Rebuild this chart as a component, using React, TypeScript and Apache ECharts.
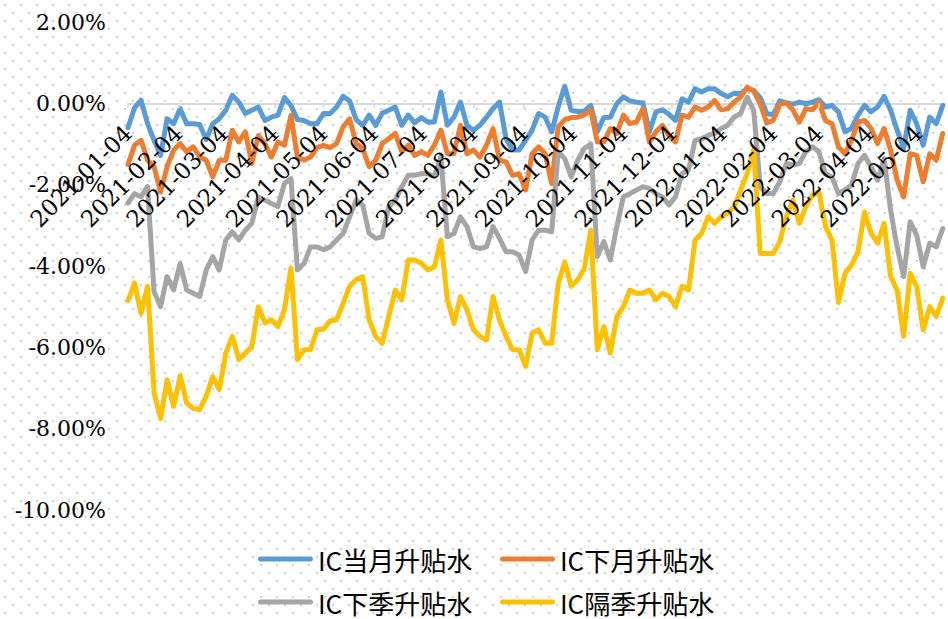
import React, { useEffect, useRef } from "react";
import * as echarts from "echarts";

// Sample dates (every 4 calendar days)
const DATES = [
  "2021-01-04","2021-01-08","2021-01-12","2021-01-16","2021-01-20","2021-01-24","2021-01-28",
  "2021-02-01","2021-02-05","2021-02-09","2021-02-13","2021-02-17","2021-02-21","2021-02-25",
  "2021-03-01","2021-03-05","2021-03-09","2021-03-13","2021-03-17","2021-03-21","2021-03-25","2021-03-29",
  "2021-04-02","2021-04-06","2021-04-10","2021-04-14","2021-04-18","2021-04-22","2021-04-26","2021-04-30",
  "2021-05-04","2021-05-08","2021-05-12","2021-05-16","2021-05-20","2021-05-24","2021-05-28",
  "2021-06-01","2021-06-05","2021-06-09","2021-06-13","2021-06-17","2021-06-21","2021-06-25","2021-06-29",
  "2021-07-03","2021-07-07","2021-07-11","2021-07-15","2021-07-19","2021-07-23","2021-07-27","2021-07-31",
  "2021-08-04","2021-08-08","2021-08-12","2021-08-16","2021-08-20","2021-08-24","2021-08-28",
  "2021-09-01","2021-09-05","2021-09-09","2021-09-13","2021-09-17","2021-09-21","2021-09-25","2021-09-29",
  "2021-10-03","2021-10-07","2021-10-11","2021-10-15","2021-10-19","2021-10-23","2021-10-27","2021-10-31",
  "2021-11-04","2021-11-08","2021-11-12","2021-11-16","2021-11-20","2021-11-24","2021-11-28",
  "2021-12-02","2021-12-06","2021-12-10","2021-12-14","2021-12-18","2021-12-22","2021-12-26","2021-12-30",
  "2022-01-03","2022-01-07","2022-01-11","2022-01-15","2022-01-19","2022-01-23","2022-01-27","2022-01-31",
  "2022-02-04","2022-02-08","2022-02-12","2022-02-16","2022-02-20","2022-02-24","2022-02-28",
  "2022-03-04","2022-03-08","2022-03-12","2022-03-16","2022-03-20","2022-03-24","2022-03-28",
  "2022-04-01","2022-04-05","2022-04-09","2022-04-13","2022-04-17","2022-04-21","2022-04-25","2022-04-29",
  "2022-05-03","2022-05-07","2022-05-11","2022-05-15","2022-05-19"
];

// IC当月升贴水 (%)
const IC_CURRENT = [
  -0.60,-0.11,0.08,-0.50,-0.91,-1.28,-0.38,-0.50,-0.13,-0.50,
  -0.50,-0.52,-0.89,-0.50,-0.38,-0.17,0.20,0.03,-0.25,-0.17,
  -0.09,-0.42,-0.34,-0.29,0.14,-0.05,-0.40,-0.42,-0.50,-0.50,
  -0.25,-0.25,-0.09,0.17,0.06,-0.40,-0.54,-0.29,-0.54,-0.24,
  -0.17,-0.09,-0.54,-0.29,-0.48,-0.35,-0.46,-0.46,0.28,-0.54,
  -0.34,0.03,-0.54,-0.66,-0.54,-0.34,-0.13,0.03,-0.87,-1.15,
  -1.15,-0.91,-0.66,-0.25,-0.34,-0.70,-0.09,0.42,-0.17,-0.20,
  -0.19,-0.05,-0.70,-0.35,-0.34,-0.01,0.16,0.06,0.03,0.01,
  -0.70,-0.21,-0.16,-0.27,-0.42,0.11,0.03,0.36,0.28,0.36,
  0.36,0.24,0.16,0.25,0.24,0.36,0.32,0.14,-0.25,-0.28,
  0.06,0.01,-0.02,0.03,-0.01,0.03,0.09,-0.09,-0.05,-0.21,
  -0.70,-0.62,-0.29,-0.05,-0.21,-0.09,0.17,-0.17,-0.66,-1.11,
  -0.17,-0.50,-1.03,-0.34,-0.50,-0.05
];

// IC下月升贴水 (%)
const IC_NEXT_MONTH = [
  -1.50,-1.03,-0.91,-1.40,-1.56,-2.18,-1.56,-1.15,-0.99,-1.19,
  -1.07,-1.32,-1.40,-1.81,-1.40,-1.40,-0.66,-0.95,-0.70,-1.48,
  -0.79,-0.99,-1.32,-0.95,-1.03,-0.30,-1.32,-1.40,-1.32,-1.09,
  -1.03,-1.09,-0.99,-0.58,-0.38,-0.99,-1.11,-1.56,-1.40,-0.99,
  -0.87,-0.74,-1.19,-1.03,-1.28,-1.19,-1.28,-1.03,-0.66,-1.24,
  -1.24,-0.54,-1.24,-1.15,-1.32,-1.03,-0.62,-1.40,-1.44,-1.77,
  -1.73,-2.13,-1.24,-1.07,-1.24,-1.97,-0.58,-0.40,-0.35,-0.34,
  -0.28,-0.17,-0.95,-0.95,-0.62,-0.74,-0.29,-0.50,-0.46,-0.13,
  -0.95,-0.70,-0.54,-0.79,-0.95,-0.29,-0.34,-0.09,-0.17,-0.09,
  0.07,-0.16,-0.13,0.03,0.16,0.40,0.30,-0.01,-0.48,-0.42,
  -0.02,0.01,-0.16,-0.46,-0.13,-0.16,0.03,-0.42,-0.50,-1.07,
  -1.24,-0.91,-0.46,-0.42,-0.62,-0.99,-0.62,-1.15,-1.89,-2.30,
  -1.24,-1.28,-1.93,-1.24,-1.40,-0.74
];

// IC下季升贴水 (%)
const IC_NEXT_QUARTER = [
  -2.45,-2.22,-2.30,-2.05,-4.63,-5.00,-4.26,-4.59,-3.94,-4.59,
  -4.67,-4.75,-4.10,-3.77,-4.10,-3.36,-3.16,-3.36,-3.12,-2.95,
  -2.30,-2.38,-2.46,-2.54,-1.97,-1.85,-4.10,-3.94,-3.53,-3.53,
  -3.60,-3.53,-3.36,-3.20,-2.79,-2.38,-2.50,-3.20,-3.32,-3.28,
  -2.54,-2.38,-2.05,-1.77,-1.77,-1.73,-1.73,-1.80,-1.32,-3.28,
  -3.20,-2.79,-3.03,-3.53,-3.57,-3.53,-3.03,-3.32,-3.65,-3.65,
  -3.73,-4.14,-3.36,-3.12,-3.12,-3.16,-1.19,-1.36,-1.81,-1.40,
  -1.11,-1.00,-3.77,-3.40,-3.85,-3.03,-2.30,-2.22,-2.13,-2.05,
  -2.09,-2.22,-2.30,-2.50,-2.30,-1.73,-1.64,-0.91,-0.87,-0.79,
  -0.74,-0.62,-0.54,-0.34,-0.25,0.15,-0.17,-2.05,-2.22,-2.22,
  -1.93,-1.48,-1.52,-1.48,-1.19,-1.07,-1.19,-1.73,-1.81,-2.22,
  -2.13,-2.01,-1.48,-1.28,-1.56,-1.89,-1.36,-2.63,-3.53,-4.26,
  -2.91,-3.24,-4.02,-3.44,-3.53,-3.08
];

// IC隔季升贴水 (%)
const IC_FAR_QUARTER = [
  -4.85,-4.42,-5.17,-4.50,-7.12,-7.75,-6.80,-7.45,-6.70,-7.37,
  -7.50,-7.53,-7.20,-6.72,-7.04,-6.14,-5.73,-6.30,-6.14,-5.98,
  -5.00,-5.40,-5.32,-5.49,-5.08,-4.05,-6.30,-6.06,-6.06,-5.57,
  -5.55,-5.35,-5.32,-4.92,-4.50,-4.34,-4.26,-5.33,-5.73,-5.90,
  -5.24,-4.59,-4.83,-3.85,-3.85,-3.93,-4.10,-4.02,-3.36,-4.83,
  -5.41,-4.75,-5.08,-5.57,-5.73,-5.82,-4.75,-5.33,-5.73,-6.06,
  -6.06,-6.47,-5.65,-5.57,-5.90,-5.90,-4.43,-3.90,-4.50,-4.34,
  -4.06,-3.12,-6.06,-5.49,-6.14,-5.24,-5.00,-4.59,-4.67,-4.67,
  -4.59,-4.83,-4.67,-4.75,-5.00,-4.50,-4.59,-3.36,-3.20,-2.79,
  -2.95,-2.79,-2.70,-2.54,-2.13,-1.73,-1.15,-3.69,-3.69,-3.69,
  -3.40,-2.79,-2.38,-2.95,-2.54,-2.26,-2.18,-3.03,-3.36,-4.90,
  -4.18,-3.98,-3.65,-2.67,-3.20,-3.44,-2.95,-4.26,-4.59,-5.73,
  -4.18,-4.50,-5.57,-5.00,-5.24,-4.79
];

const SERIES_NAMES = ["IC当月升贴水", "IC下月升贴水", "IC下季升贴水", "IC隔季升贴水"];
const SERIES_VALUES = [IC_CURRENT, IC_NEXT_MONTH, IC_NEXT_QUARTER, IC_FAR_QUARTER];
const SERIES_COLORS = ["#5B9BD5", "#ED7D31", "#A5A5A5", "#FFC000"];

const X_TICK_DATES = [
  "2021-01-04","2021-02-04","2021-03-04","2021-04-04","2021-05-04","2021-06-04",
  "2021-07-04","2021-08-04","2021-09-04","2021-10-04","2021-11-04","2021-12-04",
  "2022-01-04","2022-02-04","2022-03-04","2022-04-04","2022-05-04"
];
const X_MIN = "2021-01-04";
const X_MAX = "2022-05-21";
const Y_MIN = -10;
const Y_MAX = 2;
const Y_STEP = 2;

const GRID_TOP = 22;
const GRID_HEIGHT = 488;

const toTs = (s: string) => {
  const [y, m, d] = s.split("-").map(Number);
  return Date.UTC(y, m - 1, d);
};
const pad = (n: number) => (n < 10 ? "0" + n : "" + n);
const fmtDate = (v: number) => {
  const d = new Date(v);
  return `${d.getUTCFullYear()}-${pad(d.getUTCMonth() + 1)}-${pad(d.getUTCDate())}`;
};

const DOT_BG =
  "url(\"data:image/svg+xml,%3Csvg xmlns='http://www.w3.org/2000/svg' width='16' height='16'%3E%3Crect x='4' y='4' width='2' height='2' fill='%23d2d2d2'/%3E%3Crect x='12' y='12' width='2' height='2' fill='%23d2d2d2'/%3E%3C/svg%3E\")";

const LEGEND_ICON = "path://M2.5,0H52.5A2.5,2.5,0,0,1,52.5,5H2.5A2.5,2.5,0,0,1,2.5,0Z";

export default function App() {
  const ref = useRef<HTMLDivElement>(null);

  useEffect(() => {
    if (!ref.current) return;
    const chart = echarts.init(ref.current, undefined, { renderer: "svg" });
    const tickTs = X_TICK_DATES.map(toTs);
    const yTickCount = Math.round((Y_MAX - Y_MIN) / Y_STEP) + 1;
    const zeroIdx = Math.round((0 - Y_MIN) / Y_STEP);
    const splitColors = Array.from({ length: yTickCount }, (_, i) =>
      i === zeroIdx ? "#d9d9d9" : "rgba(0,0,0,0)"
    );
    // distance from grid bottom up to the zero line
    const zeroOffset = -(GRID_HEIGHT * (0 - Y_MIN)) / (Y_MAX - Y_MIN);

    const legendCommon = {
      icon: LEGEND_ICON,
      itemWidth: 55,
      itemHeight: 5,
      padding: 0,
      itemGap: 0,
      selectedMode: false,
      textStyle: { fontSize: 26, fontFamily: "Noto Sans CJK SC", color: "#000" },
    };
    const legendPos = [
      [258, 546],
      [500, 546],
      [258, 589],
      [500, 589],
    ];

    chart.setOption({
      animation: false,
      grid: { left: 128, top: GRID_TOP, width: 818, height: GRID_HEIGHT },
      legend: SERIES_NAMES.map((n, i) => ({
        ...legendCommon,
        data: [{ name: n, icon: LEGEND_ICON, itemStyle: { color: SERIES_COLORS[i] } }],
        left: legendPos[i][0],
        top: legendPos[i][1],
      })),
      xAxis: {
        type: "value",
        position: "bottom",
        offset: zeroOffset,
        min: toTs(X_MIN),
        max: toTs(X_MAX),
        z: 10,
        axisLine: { show: false, onZero: false },
        axisTick: {
          show: true,
          customValues: tickTs,
          length: 5,
          lineStyle: { color: "#d9d9d9", width: 1.5 },
        },
        axisLabel: {
          customValues: tickTs,
          rotate: 45,
          margin: 26,
          hideOverlap: false,
          showMinLabel: true,
          formatter: (v: number) => fmtDate(v),
          fontFamily: "DejaVu Serif",
          fontSize: 23,
          color: "#000",
        },
        splitLine: { show: false },
      },
      yAxis: {
        type: "value",
        min: Y_MIN,
        max: Y_MAX,
        interval: Y_STEP,
        axisLine: { show: false },
        axisTick: { show: false },
        splitLine: { show: true, lineStyle: { color: splitColors, width: 2 } },
        axisLabel: {
          margin: 22,
          formatter: (v: number) => v.toFixed(2) + "%",
          fontFamily: "DejaVu Serif",
          fontSize: 22,
          color: "#000",
        },
      },
      series: SERIES_NAMES.map((name, si) => ({
        name,
        type: "line",
        showSymbol: false,
        symbol: "none",
        legendIcon: LEGEND_ICON,
        color: SERIES_COLORS[si],
        itemStyle: { color: SERIES_COLORS[si] },
        lineStyle: { width: 5, color: SERIES_COLORS[si], join: "round", cap: "round" },
        data: DATES.map((d, i) => [toTs(d), SERIES_VALUES[si][i]]),
      })),
    });

    return () => chart.dispose();
  }, []);

  return (
    <div
      style={{
        position: "absolute",
        left: 0,
        top: 0,
        width: 948,
        height: 619,
        backgroundColor: "#fff",
        backgroundImage: DOT_BG,
      }}
    >
      <div ref={ref} style={{ width: 948, height: 619 }} />
    </div>
  );
}
